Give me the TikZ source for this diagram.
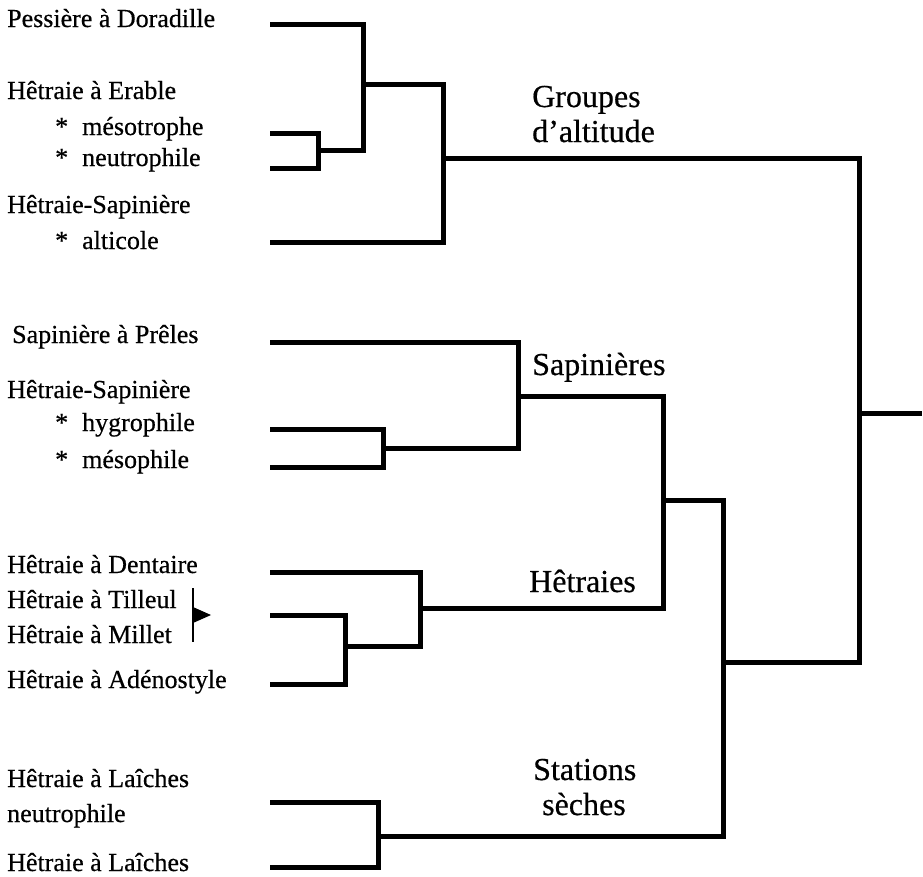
\documentclass[tikz,border=0pt]{standalone}
\usepackage{fontspec}
\setmainfont{Liberation Serif}[FakeBold=0.5]

\tikzset{
  taxon/.style={anchor=base west, inner sep=0pt, font=\fontsize{26}{26}\selectfont},
  groupe/.style={anchor=base west, inner sep=0pt, font=\fontsize{32}{32}\selectfont},
  branche/.style={line width=5pt, line join=miter},
}
\newcommand{\sousType}[1]{*\hspace{14pt}#1}

\begin{document}
\begin{tikzpicture}[x=1pt, y=-1pt]
			%%%%% START %%%%%
			\useasboundingbox (0,0) rectangle (923,876);
			
			% groupements (texte de gauche)
			\node[taxon] (pessiere) at (7,27) {Pessière à Doradille};
			\node[taxon] (erable) at (7,99) {Hêtraie à Erable};
			\node[taxon] (mesotr) at (55,135) {\sousType{mésotrophe}};
			\node[taxon] (neutr) at (55,166) {\sousType{neutrophile}};
			\node[taxon] (hsalt) at (7,213) {Hêtraie-Sapinière};
			\node[taxon] (alti) at (55,249) {\sousType{alticole}};
			
			\node[taxon] (preles) at (12,343) {Sapinière à Prêles};
			\node[taxon] (hshyg) at (7,398) {Hêtraie-Sapinière};
			\node[taxon] (hygro) at (55,431) {\sousType{hygrophile}};
			\node[taxon] (mesoph) at (55,468) {\sousType{mésophile}};
			
			\node[taxon] (dentaire) at (7,573) {Hêtraie à Dentaire};
			\node[taxon] (tilleul) at (7,608) {Hêtraie à Tilleul};
			\node[taxon] (millet) at (7,643) {Hêtraie à Millet};
			\node[taxon] (adeno) at (7,688) {Hêtraie à Adénostyle};
			
			\node[taxon] (laineu) at (7,787) {Hêtraie à Laîches};
			\node[taxon] (neutlai) at (7,822) {neutrophile};
			\node[taxon] (laiches) at (7,871) {Hêtraie à Laîches};
			
			% accolade Tilleul / Millet
			\draw[line width=2.5pt] (193,588) -- (193,642);
			\fill (193,607) -- (211,615) -- (193,623) -- cycle;
			
			% noms des groupes
			\node[groupe] (altitude) at (532,107) {Groupes};
			\node[groupe] (altitude2) at (532,142) {d'altitude};
			\node[groupe] (sapin) at (532,375) {Sapinières};
			\node[groupe] (hetre) at (529,592) {Hêtraies};
			\node[groupe] (station) at (533,780) {Stations};
			\node[groupe] (station2) at (542,815) {sèches};
			
			% bouts des feuilles
			\coordinate (f1) at (270,24);
			\coordinate (f2) at (270,133);
			\coordinate (f3) at (270,168);
			\coordinate (f4) at (270,242);
			\coordinate (f5) at (270,342);
			\coordinate (f6) at (270,429);
			\coordinate (f7) at (270,467);
			\coordinate (f8) at (270,572);
			\coordinate (f9) at (270,615);
			\coordinate (f10) at (270,684);
			\coordinate (f11) at (270,802);
			\coordinate (f12) at (270,867);
			
			% noeuds
			\coordinate (n1) at (318,150);
			\coordinate (n2) at (363,84);
			\coordinate (n3) at (443,158);
			\coordinate (n4) at (383,448);
			\coordinate (n5) at (518,396);
			\coordinate (n6) at (345,646);
			\coordinate (n7) at (420,608);
			\coordinate (n8) at (663,500);
			\coordinate (n9) at (378,836);
			\coordinate (n10) at (723,662);
			\coordinate (racine) at (859,413);
			\coordinate (fin) at (922,413);
			
			\draw[branche] (f2) -| (n1) |- (f3);
			\draw[branche] (f1) -| (n2) |- (n1);
			\draw[branche] (n2) -| (n3) |- (f4);
			
			\draw[branche] (f6) -| (n4) |- (f7);
			\draw[branche] (f5) -| (n5) |- (n4);
			
			\draw[branche] (f9) -| (n6) |- (f10);
			\draw[branche] (f8) -| (n7) |- (n6);
			\draw[branche] (n5) -| (n8) |- (n7);
			
			\draw[branche] (f11) -| (n9) |- (f12);
			\draw[branche] (n8) -| (n10) |- (n9);
			
			\draw[branche] (n3) -| (racine) |- (n10);
			\draw[branche] (racine) -- (fin);
			
			%%%%% END %%%%%
\end{tikzpicture}
\end{document}
